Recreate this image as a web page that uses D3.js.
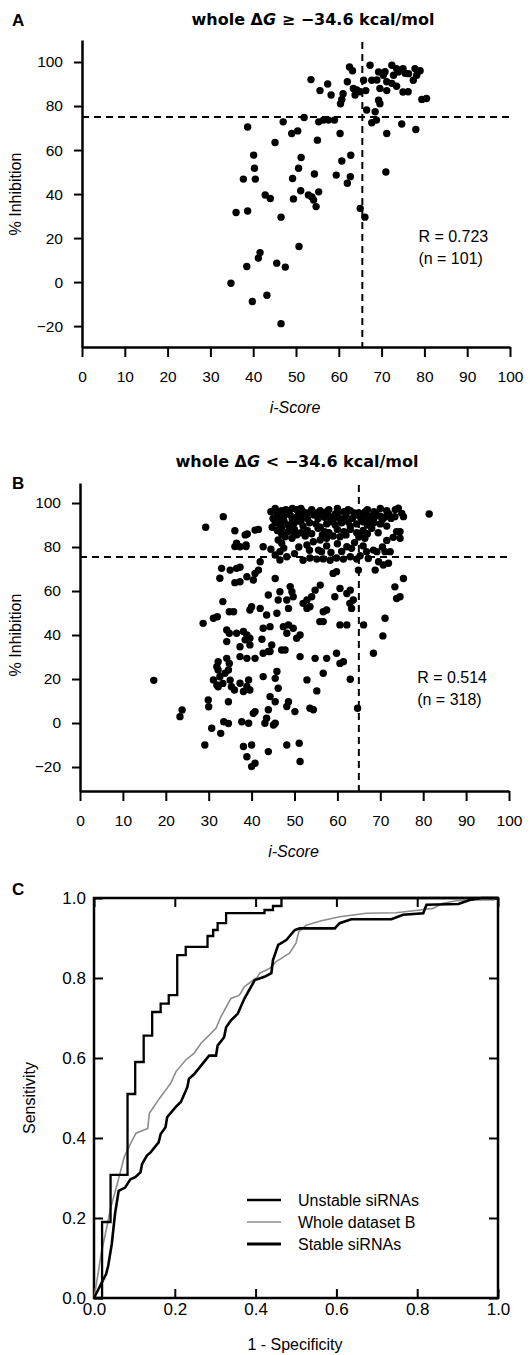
<!DOCTYPE html>
<html>
<head>
<meta charset="utf-8">
<script src="https://cdn.jsdelivr.net/npm/d3@7"></script>
<style>
  body { margin: 0; background: #fff; }
  svg { display: block; }
  text { font-family: "Liberation Sans", Arial, sans-serif; fill: #000; }
</style>
</head>
<body>
<svg id="fig" width="530" height="1355"></svg>
<script>
// ---- panel A : whole dG >= -34.6, [i-score, % inhibition]
var panelAPoints = [
  [53.5,92],[55.6,87],[57.4,90],[58.2,85],[60.4,81],[60.7,83],[61,85.6],[62,91],[62.5,97.7],[63.2,96],
  [63.4,88],[63.8,85],[64.2,87.3],[65,86.5],[65.8,91.7],[66.3,87],[66.5,78.2],[67.3,98.5],[67.7,91.7],[68.5,77.4],
  [68.9,91.8],[69.3,95.5],[69.6,88],[69.3,82.6],[69.6,81],[70.4,94],[70.8,95.6],[71.2,91],[71.2,87],[72.4,98.5],
  [72.4,90.3],[72.8,94],[73.5,97],[73.5,89],[73.9,95.5],[75,97],[75.5,94.9],[75,86.4],[76.2,86.5],[76.3,94.7],
  [77.4,91.7],[77.8,97],[78.2,94],[79,96],[79.4,83],[80.5,83.4],
  [67.7,72.4],[68.8,73.6],[71.2,67.5],[74.7,71.8],[78,69.3],[51.9,74.8],[47,72.8],[38.7,70.5],[49,67.5],[50.4,68.7],
  [45.1,63.4],[55.3,72.8],[56.4,73.6],[57.6,73.6],[59,73.6],[55,64.5],[60.3,67.5],
  [40.1,57.7],[40.3,51.7],[40.5,46.8],[37.7,46.8],[42.8,39.6],[44,38],[51.2,56.6],[50.6,51.7],[49.2,47.1],[54.3,49.1],
  [59.4,48.6],[60.7,55],[62.8,57.6],[62.7,47.9],[62,44.9],[71,50],[51.1,41.5],[49.4,37.8],[52.9,39.6],[54.1,37.3],
  [55.3,41],[54.7,34.3],[53.7,38.7],
  [36,31.6],[38.7,32.3],[46.5,29.5],[65,33.5],[66.1,29.5],[41.6,13.4],[41.2,10.9],[38.5,7.1],[45.5,8.6],[47.5,6.8],
  [50.7,16.2],[34.8,-0.5],[39.8,-8.8],[43.2,-6],[46.5,-18.9]
];

// ---- panel B : whole dG < -34.6
var panelBPoints = [
  [17.2,19.4],[81.4,95],[23.3,2.9],[23.8,5.9],[29.1,-10],[29.3,89],[33.4,93.8],[28.7,45.3],[31.1,47.6],[32,48.3],
  [29.9,10.5],[30,7.4],[30.7,-2.4],[32.8,-4.7],[32.2,27.9],[31.9,25.6],[32.2,24.1],[32.6,21],[32.2,16.5],[33.3,18],
  [34.2,29.4],[34.8,27.1],[35,19.5],[35.3,16.5],[36,15],[34.6,9.7],[33.5,0.6],[34.6,-0.2],[34.2,42.3],[34.8,40.8],
  [34.2,37],[34.8,50.6],[33.3,55.2],[32.6,65.8],[33,70.3],[35,69.5],[36.5,70.3],[36.1,63.8],[36.1,87.4],[36.5,81.7],
  [36.1,80.2],[38.5,85.5],[38.7,80.2],[40.8,87.7],
  [39,85.9],[41.6,88],[37.3,80.1],[38.7,80.9],[42.7,80.1],[37.3,70.8],[38.9,66.5],[37.3,64.2],[40.8,68],[41.6,69.5],
  [40.4,65],[42,73.3],[45.5,65.7],[45.5,76.4],[46.6,77.9],[47,81.7],[48.2,75.6],[46.6,74.1],[46.2,83.2],[47.8,84.7],
  [49.7,87],[50.5,85.5],[49.4,84],[52.9,80.9],[54.4,82.4],[56,83.2],[57.5,84],[56.3,77.9],[55.6,78.6],
  [52,74],[53.6,75],[55.2,74.5],[56.7,74.6],[58.3,74],[59.8,75],[61.4,74.5],[63,75.6],[64.5,74.5],[65.3,76],
  [62.2,80.1],[63.3,79.4],[60.6,84.7],[65.3,86.2],[66.4,84],[66.8,77.9],[67.2,74.8],[68.4,78.6],[69.2,77.9],[69.6,73.3],
  [72.3,77.9],[71.9,72.6],[68.8,69.5],[64.9,69.5],[59,68],[59.8,68.8],[75.4,65.7],[73.4,61.9],[74.6,57.4],[73.8,56.6],
  [74.6,87],[74.6,84],[75,95.3],[75.4,93.8],[74.2,97.6],[73.4,93.8],[73.8,87],[73,84.4],[71.1,77.9],[70.7,71.8],
  [60.6,61.2],[62.2,58.9],[63,60.4],[63.7,55.9],[63.3,52.1],[56,62.7],[54.8,60.4],[54,57.4],[52.9,55.9],[49,62],
  [49.4,59.7],[49.7,57.4],[48.2,55.9],[46.6,59.7],[46.2,55.9],[43.9,58.2],[42,52.1],[40,52.9],[39.6,51.4],[35.8,50.6],
  [48.6,52.1],[52,54.4],[52.9,52.1],[53.6,52.9],[57.5,51.4],[45.9,49.9],[43.5,49.1],[56.7,50.6],[55.9,46.1],[59.4,57.4],
  [62.9,54.4],
  [36.5,40.8],[38.1,41.6],[38.9,40],[39.6,38.5],[38.5,37.8],[37.3,34.7],[39.6,35.5],[42.4,38.1],[44.7,35.5],[43.9,32.5],
  [42.7,43.1],[44.3,43.8],[47.4,43.8],[48.6,44.6],[49.7,43.1],[51.3,40],[50.5,38.5],[48.2,40.8],
  [51.3,30.2],[54.8,29.4],[57.5,29.4],[59.8,31.7],[60.6,27.1],[61.4,27.9],[56.7,22.6],[52.9,19.6],[63,19.9],[55.2,14.6],
  [37.3,30.2],[38.9,29.4],[40.8,29.4],[42.7,31.7],[44.3,32.5],[47,33.2],[47.8,33.2],
  [34.6,24.1],[33.8,22.6],[37.3,18.1],[39.3,19.6],[39.6,15],[38.1,14.3],[38.9,16.6],[42.7,21.1],[45.5,20.3],[45.9,23.4],
  [46.2,15.8],[44.3,12],[45.5,9.7],[43.9,6],[40.4,4.4],[40.8,5.2],[48.2,7.5],[48.6,9.7],[50.1,5.2],[53.6,6.7],
  [54.4,6],[37.7,0.6],[39.3,-0.1],[43.1,-0.1],[43.5,2.2],[45.1,-0.9],[45.5,-0.1],
  [38.1,-10.7],[40,-10],[38.9,-15.3],[40.8,-18.3],[40,-19.8],[43.9,-13],[48.2,-10],[51.1,-9.2],[51.3,-17.5],
  [56.7,46.1],[60.6,44.6],[62.2,44.6],[66.1,44.6],[64.7,6.7],[68.4,31.7],[71.1,47.6],[70.6,39.6],[31.1,19.6],[31.9,17.3],
  [44.5,79],[47.5,79.5],[50,77],[51,80],[53.5,78.5],[57.5,80.5],[58.5,77.5],[60,81.5],[61,78],[64,82],
  [66,80.5],[70.5,80],[71.5,83],
  // dense band near the top
  [46,95],[47,96.5],[48,97],[49.5,97.5],[50.5,97],[52,96],[56,96.5],[58,97],[60,97.5],[61.5,96],
  [63,96.5],[65,95.5],[67,97],[68.5,96],[70,97.5],[71.5,96.5],[73.5,97],
  [45,93],[46.5,93.5],[47.5,94],[49,94.5],[50.5,93.5],[52,94],[53,93],[54.5,94.5],[55.5,93],[57,93.5],
  [58,94],[59.5,95],[60.5,93],[62,94.5],[63.5,93],[64.5,94.5],[66,93.5],[67.5,94],[68.5,93],[70,94],
  [71,93.5],[72.5,93],
  [45.5,91],[46.5,90.5],[47.5,91.5],[48.5,90],[50,91],[51.5,91.5],[52,89.5],[53.5,91],[55,90.5],[56,89],
  [57.5,90.5],[58.5,91.5],[59.5,90],[61,91],[62.5,91.5],[63,89.5],[64.5,90.5],[66,91.5],[67,90],[68.5,91],
  [70,90.5],[71.5,89.5],
  [46,87.5],[47,88.5],[48.5,87],[50,88],[51.5,86.5],[53,87.5],[54,86],[55.5,88.5],[57,87],[58,86.5],
  [60,88],[61.5,87],[63,88],[64.5,86.5],[66,87.5],[68,88.5],
  [44.5,96],[45.5,97.5],[47.5,92],[48.5,95.5],[49.5,92.5],[51,95],[51.5,97.5],[53,95.5],[54,97],[55,95.5],
  [56.5,94.5],[57.5,96],[59,92.5],[60,95.5],[61.5,92.5],[62.5,97],[64,95.5],[65.5,93],[66.5,96],[67.5,92],
  [69,95],[70.5,92.5],[72,95],[44.8,89],[47,86],[49,89],[52.5,85],[56.5,85.5],[59,85],[62,85.5],
  [65,84.5],[67,86],[69.5,86.5]
];

var scoreTicks = [0, 10, 20, 30, 40, 50, 60, 70, 80, 90, 100];
var inhibTicks = [-20, 0, 20, 40, 60, 80, 100];

// ---- panel C : ROC curves [1 - specificity, sensitivity]
var unstableRoc = [
  [0,0],[0.02,0.19],[0.041,0.308],[0.083,0.51],[0.102,0.59],[0.123,0.656],[0.144,0.715],[0.165,0.736],
  [0.185,0.757],[0.206,0.857],[0.227,0.878],[0.281,0.905],[0.295,0.92],[0.306,0.937],[0.327,0.962],
  [0.422,0.97],[0.443,0.98],[0.464,1],[1,1]
];
var wholeRoc = [
  [0,0],[0.005,0.03],[0.01,0.06],[0.017,0.107],[0.025,0.145],[0.042,0.228],[0.058,0.287],[0.075,0.353],
  [0.091,0.387],[0.104,0.412],[0.133,0.424],[0.137,0.462],[0.162,0.499],[0.19,0.537],[0.203,0.566],
  [0.227,0.595],[0.248,0.612],[0.265,0.637],[0.302,0.674],[0.314,0.703],[0.339,0.749],[0.36,0.757],
  [0.372,0.778],[0.405,0.803],[0.41,0.812],[0.435,0.824],[0.451,0.841],[0.484,0.862],[0.5,0.887],
  [0.507,0.916],[0.525,0.932],[0.563,0.943],[0.608,0.953],[0.674,0.962],[0.748,0.963],[0.806,0.97],
  [0.839,0.974],[0.864,0.987],[0.897,0.993],[0.939,0.995],[0.989,0.995],[0.99,1]
];
var stableRoc = [
  [0,0],[0.01,0.02],[0.02,0.04],[0.03,0.06],[0.035,0.08],[0.044,0.135],[0.052,0.21],[0.061,0.268],
  [0.077,0.276],[0.09,0.297],[0.102,0.302],[0.115,0.314],[0.119,0.335],[0.131,0.356],[0.14,0.364],
  [0.16,0.389],[0.165,0.41],[0.177,0.427],[0.181,0.452],[0.202,0.477],[0.215,0.49],[0.231,0.527],
  [0.235,0.548],[0.248,0.56],[0.269,0.586],[0.285,0.606],[0.302,0.606],[0.306,0.631],[0.322,0.652],
  [0.327,0.677],[0.339,0.694],[0.356,0.711],[0.372,0.748],[0.398,0.795],[0.422,0.803],[0.439,0.812],
  [0.443,0.845],[0.456,0.883],[0.476,0.895],[0.497,0.92],[0.509,0.924],[0.596,0.924],[0.608,0.937],
  [0.637,0.947],[0.736,0.947],[0.765,0.958],[0.815,0.962],[0.823,0.983],[0.902,0.985],[0.93,0.995],
  [0.96,1],[1,1]
];
var rocTicks = [0, 0.2, 0.4, 0.6, 0.8, 1.0];
var legendNames = ["Unstable siRNAs", "Whole dataset B", "Stable siRNAs"];

var svg = d3.select("#fig");
svg.append("rect").attr("width", 530).attr("height", 1355).attr("fill", "#fff");

function minusFmt(d) { return d < 0 ? "\u2212" + Math.abs(d) : String(d); }

function styleAxis(ax, fontSize) {
  ax.select(".domain").attr("stroke", "#000").attr("stroke-width", 2.5);
  ax.selectAll(".tick line").attr("stroke", "#000").attr("stroke-width", 2);
  ax.selectAll(".tick text").style("font-family", '"Liberation Sans", Arial, sans-serif')
    .style("font-size", fontSize + "px").attr("fill", "#000");
}

// scatter panel (A and B)
function scatterPanel(cfg) {
  var g = svg.append("g");
  var x = d3.scaleLinear().domain([0, 100]).range([cfg.left, cfg.right]);
  var y = d3.scaleLinear().domain(cfg.yDomain).range([cfg.bottom, cfg.top]);

  var ya = g.append("g").attr("transform", "translate(" + cfg.left + ",0)")
    .call(d3.axisLeft(y).tickValues(inhibTicks).tickFormat(minusFmt)
      .tickSize(8).tickPadding(11).tickSizeOuter(0));
  styleAxis(ya, 15.5);
  var xa = g.append("g").attr("transform", "translate(0," + cfg.bottom + ")")
    .call(d3.axisBottom(x).tickValues(scoreTicks).tickSize(10).tickPadding(14).tickSizeOuter(0));
  styleAxis(xa, 15.5);

  // threshold lines
  g.append("line").attr("x1", cfg.left).attr("x2", cfg.right)
    .attr("y1", y(cfg.cutY)).attr("y2", y(cfg.cutY))
    .attr("stroke", "#000").attr("stroke-width", 2).attr("stroke-dasharray", "7,5");
  g.append("line").attr("x1", x(cfg.cutX)).attr("x2", x(cfg.cutX))
    .attr("y1", cfg.top + 2).attr("y2", cfg.bottom)
    .attr("stroke", "#000").attr("stroke-width", 2).attr("stroke-dasharray", "7,5");

  g.append("g").selectAll("circle").data(cfg.points).join("circle")
    .attr("cx", function(d) { return x(d[0]); })
    .attr("cy", function(d) { return y(d[1]); })
    .attr("r", 3.7).attr("fill", "#000");

  // titles and labels
  var t = g.append("text").attr("x", cfg.titleX).attr("y", cfg.titleY)
    .attr("text-anchor", "middle")
    .style("font-family", '"DejaVu Sans", sans-serif').style("font-weight", "bold").style("font-size", "16px");
  t.append("tspan").text("whole \u0394");
  t.append("tspan").style("font-style", "italic").text("G");
  t.append("tspan").text(cfg.titleRest);

  g.append("text").attr("x", 12).attr("y", cfg.letterY).text(cfg.letter)
    .style("font-family", '"Liberation Sans", Arial, sans-serif').style("font-weight", "bold").style("font-size", "17px");

  g.append("text").attr("x", (cfg.left + cfg.right) / 2 - 1).attr("y", cfg.bottom + 66)
    .attr("text-anchor", "middle").style("font-style", "italic").style("font-size", "16px").text("i-Score");

  g.append("text").attr("transform", "translate(21," + y(40) + ") rotate(-90)")
    .attr("text-anchor", "middle").style("font-size", "16px").text("%  Inhibition");

  g.append("text").attr("x", x(78.6)).attr("y", y(18)).style("font-size", "16px").text("R = " + cfg.r);
  g.append("text").attr("x", x(78.6)).attr("y", y(8.3)).style("font-size", "16px").text("(n = " + cfg.n + ")");
}

scatterPanel({
  points: panelAPoints, left: 82, right: 510, top: 40, bottom: 347, yDomain: [-29.5, 110],
  cutX: 65.5, cutY: 75, titleX: 313, titleY: 25, titleRest: " \u2265 \u221234.6 kcal/mol",
  letter: "A", letterY: 26, r: "0.723", n: "101"
});
scatterPanel({
  points: panelBPoints, left: 80, right: 509, top: 483, bottom: 791, yDomain: [-30.9, 109.1],
  cutX: 65, cutY: 75.5, titleX: 297, titleY: 467, titleRest: " < \u221234.6 kcal/mol",
  letter: "B", letterY: 489, r: "0.514", n: "318"
});

// ---- panel C
var cx = d3.scaleLinear().domain([0, 1]).range([94, 498]);
var cy = d3.scaleLinear().domain([0, 1]).range([1298, 898]);
var gc = svg.append("g");
var fmt = d3.format(".1f");

var la = gc.append("g").attr("transform", "translate(94,0)")
  .call(d3.axisLeft(cy).tickValues(rocTicks).tickFormat(fmt).tickSize(-9).tickPadding(8).tickSizeOuter(0));
var ba = gc.append("g").attr("transform", "translate(0,1298)")
  .call(d3.axisBottom(cx).tickValues(rocTicks).tickFormat(fmt).tickSize(-9).tickPadding(5).tickSizeOuter(0));
var ra = gc.append("g").attr("transform", "translate(498,0)")
  .call(d3.axisRight(cy).tickValues(rocTicks).tickFormat("").tickSize(-9).tickSizeOuter(0));
var ta = gc.append("g").attr("transform", "translate(0,898)")
  .call(d3.axisTop(cx).tickValues(rocTicks).tickFormat("").tickSize(-9).tickSizeOuter(0));
[la, ba, ra, ta].forEach(function(a) { styleAxis(a, 17); a.select(".domain").remove(); });

gc.append("rect").attr("x", 94).attr("y", 898).attr("width", 404).attr("height", 400)
  .attr("fill", "none").attr("stroke", "#000").attr("stroke-width", 2.5);

var rocLine = d3.line().x(function(d) { return cx(d[0]); }).y(function(d) { return cy(d[1]); });
gc.append("path").attr("d", rocLine(wholeRoc)).attr("fill", "none")
  .attr("stroke", "#8c8c8c").attr("stroke-width", 1.6);
gc.append("path").attr("d", rocLine(stableRoc)).attr("fill", "none")
  .attr("stroke", "#000").attr("stroke-width", 2.6).attr("stroke-linejoin", "miter");
gc.append("path").attr("d", rocLine.curve(d3.curveStepAfter)(unstableRoc)).attr("fill", "none")
  .attr("stroke", "#000").attr("stroke-width", 2.3);

// legend
var legendStyles = [
  { stroke: "#000", width: 2.6 },
  { stroke: "#8c8c8c", width: 1.6 },
  { stroke: "#000", width: 3 }
];
legendNames.forEach(function(name, i) {
  var ly = 1200 + i * 22;
  gc.append("line").attr("x1", 247).attr("x2", 281).attr("y1", ly).attr("y2", ly)
    .attr("stroke", legendStyles[i].stroke).attr("stroke-width", legendStyles[i].width);
  gc.append("text").attr("x", 298).attr("y", ly).attr("dy", "0.36em")
    .style("font-size", "16px").text(name);
});

gc.append("text").attr("x", 12).attr("y", 895).text("C")
  .style("font-weight", "bold").style("font-size", "17px");
gc.append("text").attr("transform", "translate(35," + cy(0.5) + ") rotate(-90)")
  .attr("text-anchor", "middle").style("font-size", "16px").text("Sensitivity");
gc.append("text").attr("x", 295).attr("y", 1350).attr("text-anchor", "middle")
  .style("font-size", "16px").text("1 - Specificity");
</script>
</body>
</html>
